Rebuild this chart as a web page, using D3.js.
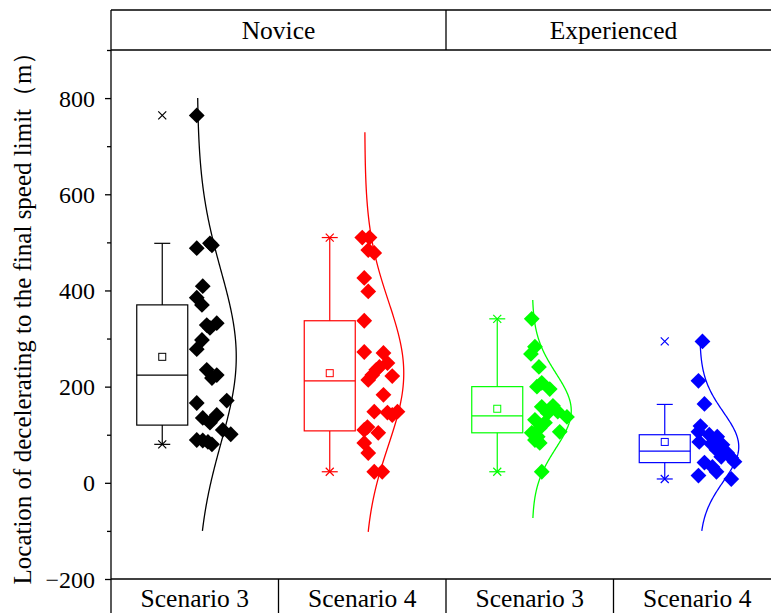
<!DOCTYPE html>
<html>
<meta charset="utf-8">
<style>
body {
  margin: 0;
  background-color: #fff;
}
.frame {
  stroke: #000;
  stroke-width: 1.3px;
  fill: none;
}
</style>
<body>
<script src="https://d3js.org/d3.v7.min.js"></script>
<script>

// categories
var scenarios = ["Scenario 3", "Scenario 4", "Scenario 3", "Scenario 4"];
var groups = ["Novice", "Experienced"];
var colors = ["#000000", "#ff0000", "#00ff00", "#0000ff"];

// tick labels
var yTicks = [-200, 0, 200, 400, 600, 800];
var yMinorTicks = [-100, 100, 300, 500, 700, 900];

// raw points (m) and jitter (0..1 of the scatter strip)
var values0 = [764, 488, 498, 494, 409, 385, 370, 328, 332, 322, 297, 278, 235, 224, 218, 166, 171, 135, 141, 125, 110, 101, 89, 88, 85, 80];
var jitter0 = [0.05, 0.05, 0.38, 0.43, 0.2, 0.05, 0.18, 0.3, 0.55, 0.38, 0.18, 0.05, 0.3, 0.55, 0.43, 0.05, 0.8, 0.2, 0.55, 0.38, 0.7, 0.9, 0.05, 0.2, 0.33, 0.43];
var values1 = [510, 510, 484, 478, 426, 398, 337, 272, 270, 249, 241, 235, 224, 222, 214, 183, 148, 146, 148, 141, 116, 110, 104, 83, 62, 23, 23];
var jitter1 = [0, 0.18, 0.15, 0.3, 0.05, 0.15, 0.05, 0.05, 0.53, 0.63, 0.43, 0.35, 0.25, 0.75, 0.15, 0.53, 0.3, 0.63, 0.88, 0.75, 0.13, 0.05, 0.4, 0.05, 0.15, 0.3, 0.5];
var values2 = [341, 283, 268, 241, 208, 200, 195, 158, 160, 148, 145, 137, 131, 125, 114, 106, 104, 96, 89, 83, 23];
var jitter2 = [0.05, 0.13, 0.03, 0.23, 0.3, 0.18, 0.5, 0.3, 0.58, 0.7, 0.45, 0.93, 0.13, 0.38, 0.25, 0.75, 0.05, 0.2, 0.13, 0.25, 0.3];
var values3 = [294, 212, 164, 118, 106, 100, 96, 85, 81, 79, 69, 62, 52, 54, 44, 42, 33, 23, 15, 8];
var jitter3 = [0.13, 0.03, 0.18, 0.08, 0.03, 0.3, 0.5, 0.05, 0.35, 0.63, 0.48, 0.75, 0.85, 0.6, 0.93, 0.18, 0.38, 0.48, 0.03, 0.85];

// box statistics
var q1 = [120, 108, 104, 42];
var median = [224, 212, 139, 66];
var q3 = [370, 337, 200, 100];
var means = [262, 228, 154, 85];
var whiskerLo = [80, 23, 23, 8];
var whiskerHi = [498, 510, 341, 163];
var minVals = [80, 23, 23, 8];
var maxVals = [764, 510, 341, 294];

// normal curve fit
var curveMu = [262, 228, 150, 75];
var curveSd = [180, 150, 78, 72];
var curveLo = [-100, -102, -73, -100];
var curveHi = [800, 729, 380, 300];

var allValues = [values0, values1, values2, values3];
var allJitter = [jitter0, jitter1, jitter2, jitter3];

var W = 771, H = 613;
var plot = {left: 111, right: 781, top: 50, bottom: 579, headTop: 10};
var serif = "'Liberation Serif', 'Times New Roman', serif";

var svg = d3.select("body").append("svg")
    .attr("width", W)
    .attr("height", H);

var x = d3.scaleBand()
    .domain(d3.range(scenarios.length))
    .range([plot.left, plot.right]);

var xGroup = d3.scaleBand()
    .domain(groups)
    .range([plot.left, plot.right]);

var y = d3.scaleLinear()
    .domain([-200, 900])
    .range([plot.bottom, plot.top]);

// scatter strip and curve width in px
var jit = d3.scaleLinear().domain([0, 1]).range([0, 40]);
var amp = d3.scaleLinear().domain([0, 1]).range([0, 39]);

function cx(i) { return x(i) + x.bandwidth() / 2; }

// y axis
var yAxis = d3.axisLeft(y)
    .tickValues(yTicks)
    .tickSize(6)
    .tickPadding(10)
    .tickFormat(function(d) { return d < 0 ? "\u2212" + Math.abs(d) : d; });

var yMinor = d3.axisLeft(y)
    .tickValues(yMinorTicks)
    .tickSize(4)
    .tickFormat("");

var gy = svg.append("g")
    .attr("transform", "translate(" + plot.left + ",0)")
    .call(yAxis);
gy.select(".domain").remove();
gy.selectAll("line").attr("stroke-width", 1.3);
gy.selectAll("text")
    .attr("fill", "#000")
    .style("font-family", serif)
    .style("font-size", "24px")
    .attr("dy", "0.34em");

var gm = svg.append("g")
    .attr("transform", "translate(" + plot.left + ",0)")
    .call(yMinor);
gm.select(".domain").remove();
gm.selectAll("line").attr("stroke-width", 1.3);

// frame lines: axis, header band, bottom band
svg.append("line").attr("class", "frame")
    .attr("x1", plot.left).attr("x2", plot.left)
    .attr("y1", plot.headTop).attr("y2", H);
[plot.headTop, plot.top, plot.bottom].forEach(function(v) {
  svg.append("line").attr("class", "frame")
      .attr("x1", plot.left).attr("x2", plot.right)
      .attr("y1", v).attr("y2", v);
});
groups.forEach(function(g, i) {
  if (i > 0) {
    svg.append("line").attr("class", "frame")
        .attr("x1", xGroup(g)).attr("x2", xGroup(g))
        .attr("y1", plot.headTop).attr("y2", plot.top);
  }
  svg.append("text")
      .attr("x", xGroup(g) + xGroup.bandwidth() / 2)
      .attr("y", 39)
      .attr("text-anchor", "middle")
      .style("font-family", serif)
      .style("font-size", "25.5px")
      .text(g);
});
scenarios.forEach(function(s, i) {
  if (i > 0) {
    svg.append("line").attr("class", "frame")
        .attr("x1", x(i)).attr("x2", x(i))
        .attr("y1", plot.bottom).attr("y2", H);
  }
  svg.append("text")
      .attr("x", cx(i))
      .attr("y", 607)
      .attr("text-anchor", "middle")
      .style("font-family", serif)
      .style("font-size", "25.5px")
      .text(s);
});

// y label
svg.append("text")
    .attr("transform", "translate(31,312) rotate(-90)")
    .attr("text-anchor", "middle")
    .style("font-family", serif)
    .style("font-size", "25px")
    .text("Location of decelerating to the final speed limit\uff08m\uff09");

var diamond = d3.symbol().type(d3.symbolSquare).size(125);

scenarios.forEach(function(s, i) {
  var c = colors[i];
  var g = svg.append("g");
  var bx = cx(i) - 32.5, bw = 51;

  // whiskers
  g.append("line")
      .attr("x1", bx).attr("x2", bx)
      .attr("y1", y(q3[i])).attr("y2", y(whiskerHi[i]))
      .attr("stroke", c).attr("stroke-width", 1.2);
  g.append("line")
      .attr("x1", bx).attr("x2", bx)
      .attr("y1", y(q1[i])).attr("y2", y(whiskerLo[i]))
      .attr("stroke", c).attr("stroke-width", 1.2);
  [whiskerLo[i], whiskerHi[i]].forEach(function(v) {
    g.append("line")
        .attr("x1", bx - 8).attr("x2", bx + 8)
        .attr("y1", y(v)).attr("y2", y(v))
        .attr("stroke", c).attr("stroke-width", 1.2);
  });

  // box
  g.append("rect")
      .attr("x", bx - bw / 2).attr("width", bw)
      .attr("y", y(q3[i])).attr("height", y(q1[i]) - y(q3[i]))
      .attr("fill", "none").attr("stroke", c).attr("stroke-width", 1.2);
  g.append("line")
      .attr("x1", bx - bw / 2).attr("x2", bx + bw / 2)
      .attr("y1", y(median[i])).attr("y2", y(median[i]))
      .attr("stroke", c).attr("stroke-width", 1.2);

  // mean
  g.append("rect")
      .attr("x", bx - 3.5).attr("y", y(means[i]) - 3.5)
      .attr("width", 7).attr("height", 7)
      .attr("fill", "none").attr("stroke", c).attr("stroke-width", 1);

  // min / max crosses
  [minVals[i], maxVals[i]].forEach(function(v) {
    var yy = y(v);
    g.append("path")
        .attr("d", "M" + (bx - 4) + "," + (yy - 4) + "L" + (bx + 4) + "," + (yy + 4) +
                   "M" + (bx - 4) + "," + (yy + 4) + "L" + (bx + 4) + "," + (yy - 4))
        .attr("stroke", c).attr("stroke-width", 1.2);
  });

  // points
  var pts = allValues[i].map(function(v, k) { return {v: v, j: allJitter[i][k]}; });
  g.selectAll(".pt").data(pts).enter().append("path")
      .attr("class", "pt")
      .attr("d", diamond)
      .attr("transform", function(d) {
        return "translate(" + (cx(i) + jit(d.j)) + "," + y(d.v) + ") rotate(45)";
      })
      .attr("fill", c);

  // normal curve
  var base = cx(i) + 2.5;
  var curvePts = d3.range(0, 201).map(function(k) {
    var v = curveLo[i] + (curveHi[i] - curveLo[i]) * k / 200;
    var z = (v - curveMu[i]) / curveSd[i];
    return [base + amp(Math.exp(-z * z / 2)), y(v)];
  });
  g.append("path")
      .attr("d", d3.line()(curvePts))
      .attr("fill", "none")
      .attr("stroke", c)
      .attr("stroke-width", 1.3);
});

</script>
</body>
</html>
